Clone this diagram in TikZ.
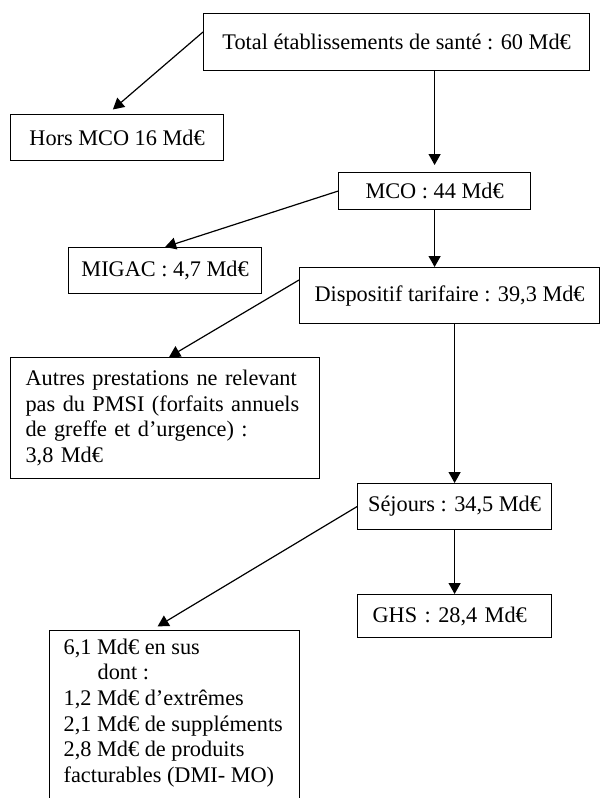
\documentclass[tikz,border=0pt]{standalone}
\usepackage{fontspec}
\setmainfont{Liberation Serif}
\usetikzlibrary{arrows.meta,calc}

\tikzset{
  boite/.style={draw, line width=.6pt, anchor=north west, inner sep=0pt, align=center},
  fleche/.style={line width=.6pt, -{Triangle[length=5.5pt,width=6pt]}}
}

\begin{document}
\begin{tikzpicture}[x=.5pt,y=-.5pt,font=\fontsize{11.15}{12.85}\selectfont]
\useasboundingbox (0,0) rectangle (601,798);

\node[boite,minimum width=193pt,minimum height=28.5pt] (total) at (203,13) {Total établissements de santé : 60 Md€};
\node[boite,minimum width=106.5pt,minimum height=23pt] (hors) at (10,114) {Hors MCO 16 Md€};
\node[boite,minimum width=96pt,minimum height=18.5pt] (mco) at (338,172) {MCO : 44 Md€};
\node[boite,minimum width=96.5pt,minimum height=23pt] (migac) at (68,247) {MIGAC : 4,7 Md€};
\node[boite,minimum width=150pt,minimum height=28pt] (dispo) at (299,267) {Dispositif tarifaire : 39,3 Md€};
\node[boite,align=left,text width=139.5pt,inner xsep=7.5pt,minimum height=60.5pt] (autres) at (10,357)
  {Autres prestations ne relevant\\ pas du PMSI (forfaits annuels\\ de greffe et d’urgence) :\\ 3,8 Md€};
\node[boite,minimum width=97pt,minimum height=23pt] (sej) at (357,483) {Séjours : 34,5 Md€};
\node[boite,align=left,text width=82pt,inner xsep=7.5pt,minimum height=21.5pt] (ghs) at (357,594) {GHS : 28,4 Md€};
\node[boite,inner xsep=7pt,inner ysep=4pt] (sus) at (49,630) {\begin{minipage}[t][200pt][t]{111pt}\raggedright
6,1 Md€ en sus\\
\hspace*{17pt}dont :\\
1,2 Md€ d’extrêmes\\
2,1 Md€ de suppléments\\
2,8 Md€ de produits\\
facturables (DMI- MO)
\end{minipage}};

\draw[fleche,shorten >=3.5pt] ([yshift=-9.5pt]total.north west) -- ([xshift=-4.75pt]hors.north);
\draw[fleche,shorten >=3.5pt] (mco.north |- total.south) -- (mco.north);
\draw[fleche] (mco.west) -- (migac.north);
\draw[fleche] (mco.south) -- (mco.south |- dispo.north);
\draw[fleche] ([yshift=-6.5pt]dispo.north west) -- ([xshift=2pt]autres.north);
\draw[fleche] (sej.north |- dispo.south) -- (sej.north);
\draw[fleche,shorten >=3.5pt] (sej.west) -- ([xshift=-11.5pt]sus.north);
\draw[fleche] (sej.south) -- (ghs.north);

\end{tikzpicture}
\end{document}
